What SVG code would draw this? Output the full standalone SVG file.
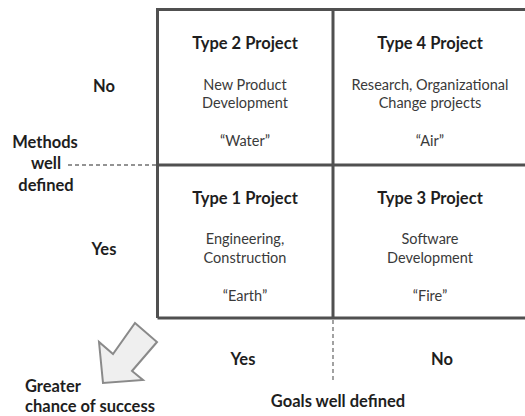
<svg xmlns="http://www.w3.org/2000/svg" width="525" height="416" viewBox="0 0 525 416">
  <style>
    .grid { stroke: #505050; stroke-width: 3; fill: none; }
    .dash { stroke: #707070; stroke-width: 1.3; stroke-dasharray: 4 3; fill: none; }
    .title { font-family: Lato, "Open Sans", sans-serif; font-weight: bold; font-size: 16.5px; fill: #1e1e1e; text-anchor: middle; }
    .body { font-family: Lato, "Open Sans", sans-serif; font-size: 14.5px; fill: #3a3a3a; text-anchor: middle; }
    .label { font-family: Lato, "Open Sans", sans-serif; font-weight: bold; font-size: 16.5px; fill: #1e1e1e; }
  </style>
  <rect width="525" height="416" fill="#ffffff"/>

  <!-- matrix frame and dividers -->
  <g id="connectors">
    <path class="grid" d="M157.5 318 V9.5 H525 M157.5 318 H525 M333 9.5 V318 M157.5 165 H525"/>
    <line class="dash" x1="68" y1="165" x2="156" y2="165"/>
    <line class="dash" x1="333" y1="320" x2="333" y2="381"/>
  </g>

  <!-- quadrants -->
  <g id="type2">
    <text class="title" x="245" y="49">Type 2 Project</text>
    <text class="body" x="245" y="90">New Product</text>
    <text class="body" x="245" y="108">Development</text>
    <text class="body" x="245" y="146">“Water”</text>
  </g>
  <g id="type4">
    <text class="title" x="430" y="49">Type 4 Project</text>
    <text class="body" x="430" y="90">Research, Organizational</text>
    <text class="body" x="430" y="108">Change projects</text>
    <text class="body" x="430" y="146">“Air”</text>
  </g>
  <g id="type1">
    <text class="title" x="245" y="204">Type 1 Project</text>
    <text class="body" x="245" y="244">Engineering,</text>
    <text class="body" x="245" y="263">Construction</text>
    <text class="body" x="245" y="301">“Earth”</text>
  </g>
  <g id="type3">
    <text class="title" x="430" y="204">Type 3 Project</text>
    <text class="body" x="430" y="244">Software</text>
    <text class="body" x="430" y="263">Development</text>
    <text class="body" x="430" y="301">“Fire”</text>
  </g>

  <!-- axis labels -->
  <g id="methods-axis">
    <text class="label" x="104" y="92" text-anchor="middle">No</text>
    <text class="label" x="104" y="255" text-anchor="middle">Yes</text>
    <text class="label" x="45" y="148" text-anchor="middle">Methods</text>
    <text class="label" x="46" y="169" text-anchor="middle">well</text>
    <text class="label" x="46" y="191" text-anchor="middle">defined</text>
  </g>
  <g id="goals-axis">
    <text class="label" x="243" y="365" text-anchor="middle">Yes</text>
    <text class="label" x="442" y="365" text-anchor="middle">No</text>
    <text class="label" x="338" y="407" text-anchor="middle">Goals well defined</text>
  </g>

  <!-- success arrow -->
  <g id="success">
    <polygon points="135,323 157,342 132,371 143,380 103,383 99,342 113,354" fill="#efefef" stroke="#8a8a8a" stroke-width="2" stroke-linejoin="miter"/>
    <text class="label" x="25" y="392">Greater</text>
    <text class="label" x="25" y="412">chance of success</text>
  </g>
</svg>
